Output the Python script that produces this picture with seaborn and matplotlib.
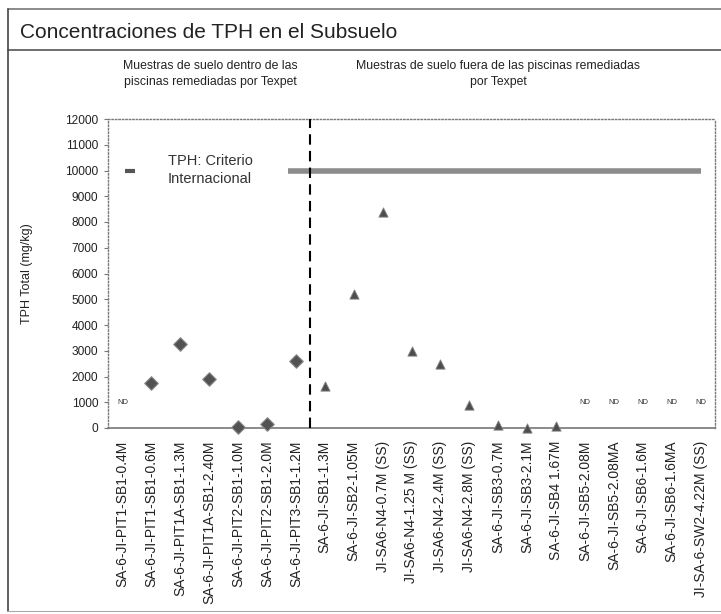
import numpy as np
import pandas as pd
import matplotlib
matplotlib.use("Agg")
import matplotlib.pyplot as plt
from matplotlib.lines import Line2D
import seaborn as sns

# ---- data ----
samples = [
    "SA-6-JI-PIT1-SB1-0.4M", "SA-6-JI-PIT1-SB1-0.6M", "SA-6-JI-PIT1A-SB1-1.3M",
    "SA-6-JI-PIT1A-SB1-2.40M", "SA-6-JI-PIT2-SB1-1.0M", "SA-6-JI-PIT2-SB1-2.0M",
    "SA-6-JI-PIT3-SB1-1.2M", "SA-6-JI-SB1-1.3M", "SA-6-JI-SB2-1.05M",
    "JI-SA6-N4-0.7M (SS)", "JI-SA6-N4-1.25 M (SS)", "JI-SA6-N4-2.4M (SS)",
    "JI-SA6-N4-2.8M (SS)", "SA-6-JI-SB3-0.7M", "SA-6-JI-SB3-2.1M",
    "SA-6-JI-SB4 1.67M", "SA-6-JI-SB5-2.08M", "SA-6-JI-SB5-2.08MA",
    "SA-6-JI-SB6-1.6M", "SA-6-JI-SB6-1.6MA", "JI-SA-6-SW2-4.22M (SS)",
]
inside_samples = samples[1:7]
inside_tph = [1750, 3280, 1900, 30, 170, 2600]
outside_samples = samples[7:16]
outside_tph = [1650, 5200, 8400, 3000, 2500, 900, 120, 0, 80]
nd_samples = [samples[0]] + samples[16:21]
nd_level = 1000
criterion = 10000
yticks = list(range(0, 12001, 1000))

# ---- figure ----
sns.set_style("white")
plt.rcParams["font.family"] = ["Liberation Sans", "DejaVu Sans"]

fig = plt.figure(figsize=(7.21, 6.14), dpi=100)
L, R, T, B = 108, 715, 119, 428
ax = fig.add_axes([L / 721, 1 - B / 614, (R - L) / 721, (B - T) / 614])

pos = {s: i for i, s in enumerate(samples)}
df_in = pd.DataFrame({"x": [pos[s] for s in inside_samples], "y": inside_tph})
df_out = pd.DataFrame({"x": [pos[s] for s in outside_samples], "y": outside_tph})

sns.scatterplot(data=df_in, x="x", y="y", marker="D", s=48, color="#525252",
                edgecolor="#8a8a8a", linewidth=0.8, ax=ax, zorder=5, clip_on=False)
sns.scatterplot(data=df_out, x="x", y="y", marker="^", s=45, color="#4d4d4d",
                edgecolor="#8a8a8a", linewidth=0.6, ax=ax, zorder=5, clip_on=False)

# criterion line
ax.hlines(criterion, 5.73, 20.0, color="#8c8c8c", lw=4, zorder=3)
ax.plot([0.25], [criterion], marker="_", ms=7, mew=3, color="#555555")
ax.text(3.03, criterion + 20, "TPH: Criterio\nInternacional", ha="center", va="center",
        fontsize=10.5, color="#333333", linespacing=1.3)

# separator
ax.axvline(6.5, color="black", lw=1.5, ls=(0, (5, 3)), zorder=4)

# ND labels
for s in nd_samples:
    ax.text(pos[s], nd_level, "ND", ha="center", va="center", fontsize=5.5, color="#333333")

# axes styling
ax.set_xlim(-0.5, len(samples) - 0.5)
ax.set_ylim(0, 12000)
ax.set_yticks(yticks)
ax.set_yticklabels([str(v) for v in yticks], fontsize=8.6, color="#222222")
ax.set_xticks(np.arange(len(samples) + 1) - 0.5)
ax.set_xticklabels([])
ax.set_xticks(np.arange(len(samples)), minor=True)
ax.set_xticklabels(samples, minor=True, rotation=90, fontsize=10, color="#222222")
ax.tick_params(axis="x", which="minor", length=0, pad=9)
ax.tick_params(axis="x", which="major", length=3, direction="inout", color="#777777")
ax.tick_params(axis="y", length=3, direction="out", color="#777777", left=True, pad=4)
ax.set_xlabel("")
ax.set_ylabel("TPH Total (mg/kg)", fontsize=9, color="#222222")
ax.yaxis.set_label_coords((33 - L) / (R - L), 0.5)
for side in ["left", "top", "right"]:
    ax.spines[side].set_linestyle((0, (1, 1.5)))
    ax.spines[side].set_color("#7a7a7a")
    ax.spines[side].set_linewidth(1.0)
ax.spines["bottom"].set_color("#777777")
ax.spines["bottom"].set_linewidth(1.2)

# headings
fig.text(20 / 721, 1 - 33 / 614, "Concentraciones de TPH en el Subsuelo",
         fontsize=15, ha="left", va="center", color="#222222")
fig.text(210 / 721, 1 - 74 / 614, "Muestras de suelo dentro de las\npiscinas remediadas por Texpet",
         fontsize=8.8, ha="center", va="center", color="#222222", linespacing=1.45)
fig.text(498 / 721, 1 - 74 / 614, "Muestras de suelo fuera de las piscinas remediadas\npor Texpet",
         fontsize=8.8, ha="center", va="center", color="#222222", linespacing=1.45)

# frame lines
fig.add_artist(Line2D([8 / 721, 1], [1 - 9 / 614, 1 - 9 / 614], color="#777777", lw=1.2))
fig.add_artist(Line2D([8 / 721, 1], [1 - 50 / 614, 1 - 50 / 614], color="#555555", lw=1.2))
fig.add_artist(Line2D([8 / 721, 8 / 721], [1 - 9 / 614, 1 - 611 / 614], color="#444444", lw=1.2))
fig.add_artist(Line2D([8 / 721, 1], [1 - 611 / 614, 1 - 611 / 614], color="#aaaaaa", lw=0.8))

fig.savefig("out.png", dpi=100)
